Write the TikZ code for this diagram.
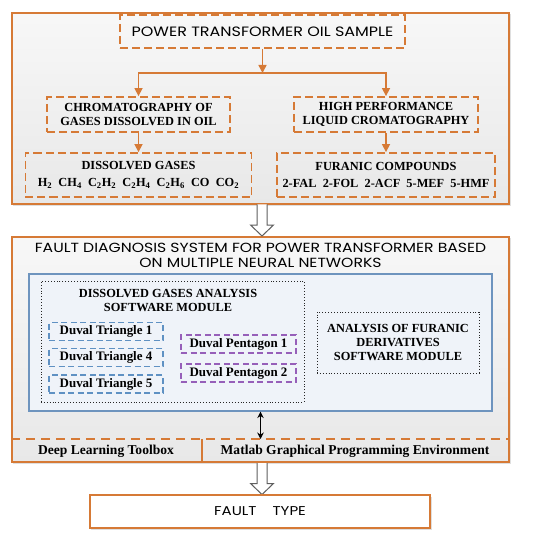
\documentclass[tikz,border=0pt]{standalone}
\usepackage{fontspec}
\setmainfont{Liberation Serif}
\newfontfamily\gothic[FakeStretch=1.18]{Poppins}
\usetikzlibrary{shadows,arrows.meta,calc}
\definecolor{org}{RGB}{214,122,54}
\definecolor{bluebox}{RGB}{110,148,190}
\definecolor{bluefill}{RGB}{239,243,249}
\definecolor{dtblue}{RGB}{95,145,195}
\definecolor{pent}{RGB}{150,95,185}
\definecolor{harrowc}{RGB}{95,95,95}
\begin{document}
\begin{tikzpicture}[x=1bp,y=-1bp,
  outerbox/.style={draw=org, line width=1.4bp, top color=white!97!black, bottom color=white!91!black,
     drop shadow={opacity=0.25, shadow xshift=1.5bp, shadow yshift=-1.5bp}},
  obox/.style={draw=org, line width=1.8bp, dash pattern=on 8bp off 4bp, inner sep=0pt, align=center},
  capsfont/.style={font=\fontsize{12.4}{13.6}\selectfont\bfseries},
  mixfont/.style={font=\fontsize{13.6}{15}\selectfont\bfseries},
  gfont/.style={font=\fontsize{13.6}{15}\selectfont\gothic},
  oarrow/.style={draw=org, line width=1.5bp, -{Triangle[length=8bp,width=8bp]}},
  dtbox/.style={draw=dtblue, line width=1.3bp, dash pattern=on 6bp off 3.5bp, minimum width=114bp, minimum height=18bp, inner sep=0pt, font=\fontsize{13}{14}\selectfont\bfseries},
  pbox/.style={draw=pent, line width=1.3bp, dash pattern=on 6bp off 3.5bp, minimum width=115bp, minimum height=18bp, inner sep=0pt, font=\fontsize{13}{14}\selectfont\bfseries},
  dotbox/.style={draw=black!85, line width=0.9bp, dotted, inner sep=0pt},
  harrow/.style={draw=harrowc, line width=1bp, fill=white, line join=miter},
  darrow/.style={draw=black, line width=1.3bp, {Stealth[length=6.5bp,width=6.5bp]}-{Stealth[length=6.5bp,width=6.5bp]}}
]
\useasboundingbox (0,0) rectangle (550,538);
\fill[white] (0,0) rectangle (550,538);

% outer boxes
\node[outerbox, minimum width=497bp, minimum height=191bp, inner sep=0pt] (out1) at (260.5,108.5) {};
\node[outerbox, minimum width=497bp, minimum height=225bp, inner sep=0pt] (out2) at (260.5,349.5) {};

% top section
\node[obox, gfont, minimum width=285bp, minimum height=33bp] (top) at (262.5,31.5) {POWER TRANSFORMER OIL SAMPLE};
\node[obox, capsfont, minimum width=183bp, minimum height=35bp] (chrom) at (138.5,114.5) {CHROMATOGRAPHY OF\\GASES DISSOLVED IN OIL};
\node[obox, capsfont, minimum width=184bp, minimum height=35bp] (hplc) at (386,114.5) {HIGH PERFORMANCE\\LIQUID CROMATOGRAPHY};
\node[obox, capsfont, minimum width=226bp, minimum height=44bp, font=\fontsize{12.4}{17}\selectfont\bfseries] (dg) at (138.5,175) {DISSOLVED GASES\\H\textsubscript{2}\ \ CH\textsubscript{4}\ \ C\textsubscript{2}H\textsubscript{2}\ \ C\textsubscript{2}H\textsubscript{4}\ \ C\textsubscript{2}H\textsubscript{6}\ \ CO\ \ CO\textsubscript{2}};
\node[obox, capsfont, minimum width=218bp, minimum height=44bp, font=\fontsize{12.4}{17}\selectfont\bfseries] (fc) at (386,175) {FURANIC COMPOUNDS\\2-FAL\ \ 2-FOL\ \ 2-ACF\ \ 5-MEF\ \ 5-HMF};

\coordinate (j) at (262.5,73);
\draw[oarrow] (top.south) -- (j);
\draw[oarrow] (j) -| (chrom.north);
\draw[oarrow] (j) -| (hplc.north);
\draw[oarrow] (chrom.south) -- (dg.north);
\draw[oarrow] (hplc.south) -- (fc.north);

% hollow arrow 1
\coordinate (a1s) at (262,204.5);
\coordinate (a1e) at (262,236);
\draw[harrow] ($(a1s)+(-5,0)$) -- ($(a1e)+(-5,-11)$) -- ($(a1e)+(-11.5,-11)$) -- (a1e) -- ($(a1e)+(11.5,-11)$) -- ($(a1e)+(5,-11)$) -- ($(a1s)+(5,0)$);

% second section
\node[gfont, align=center, inner sep=0pt, font=\fontsize{13.3}{15}\selectfont\gothic] (title) at (260.5,255.5) {FAULT DIAGNOSIS SYSTEM FOR POWER TRANSFORMER BASED\\ON MULTIPLE NEURAL NETWORKS};
\node[draw=bluebox, line width=1.2bp, fill=bluefill, minimum width=463bp, minimum height=137bp, inner sep=0pt,
  drop shadow={opacity=0.2, shadow xshift=1.2bp, shadow yshift=-1.2bp}] (blue) at (260.5,342.5) {};
\node[dotbox, minimum width=263bp, minimum height=121bp] (dga) at (172.5,341.5) {};
\node[capsfont, align=center, font=\fontsize{12.4}{15}\selectfont\bfseries] (dgat) at (168,300.5) {DISSOLVED GASES ANALYSIS\\SOFTWARE MODULE};
\node[dtbox] (dt1) at (106,331.5) {Duval Triangle 1};
\node[dtbox] (dt4) at (106,357.5) {Duval Triangle 4};
\node[dtbox] (dt5) at (106,384) {Duval Triangle 5};
\node[pbox] (p1) at (238.5,344) {Duval Pentagon 1};
\node[pbox] (p2) at (238.5,373) {Duval Pentagon 2};
\node[dotbox, capsfont, align=center, minimum width=162bp, minimum height=61bp] (afd) at (398,342.5) {ANALYSIS OF FURANIC\\DERIVATIVES\\SOFTWARE MODULE};

\coordinate (dl) at (260.5,439);
\draw[darrow] (blue.south) -- (dl);
\draw[draw=org, line width=1.5bp, dash pattern=on 9bp off 6bp] (out2.west |- dl) -- (out2.east |- dl);
\coordinate (div) at (202,439);
\draw[draw=org, line width=1.3bp] (div) -- (div |- out2.south);
\node[mixfont] (dlt) at (106,451) {Deep Learning Toolbox};
\node[mixfont] (mgp) at (355,451) {Matlab Graphical Programming Environment};

% hollow arrow 2
\coordinate (a2s) at (262,463);
\coordinate (a2e) at (262,494.5);
\draw[harrow] ($(a2s)+(-5,0)$) -- ($(a2e)+(-5,-11)$) -- ($(a2e)+(-11.5,-11)$) -- (a2e) -- ($(a2e)+(11.5,-11)$) -- ($(a2e)+(5,-11)$) -- ($(a2s)+(5,0)$);

\node[draw=org, line width=1.4bp, fill=white, minimum width=340bp, minimum height=33bp, font=\fontsize{12.8}{14}\selectfont\gothic,
  drop shadow={opacity=0.25, shadow xshift=1.5bp, shadow yshift=-1.5bp}] (ft) at (260,511.5) {FAULT\hspace{16bp}TYPE};
\end{tikzpicture}
\end{document}
